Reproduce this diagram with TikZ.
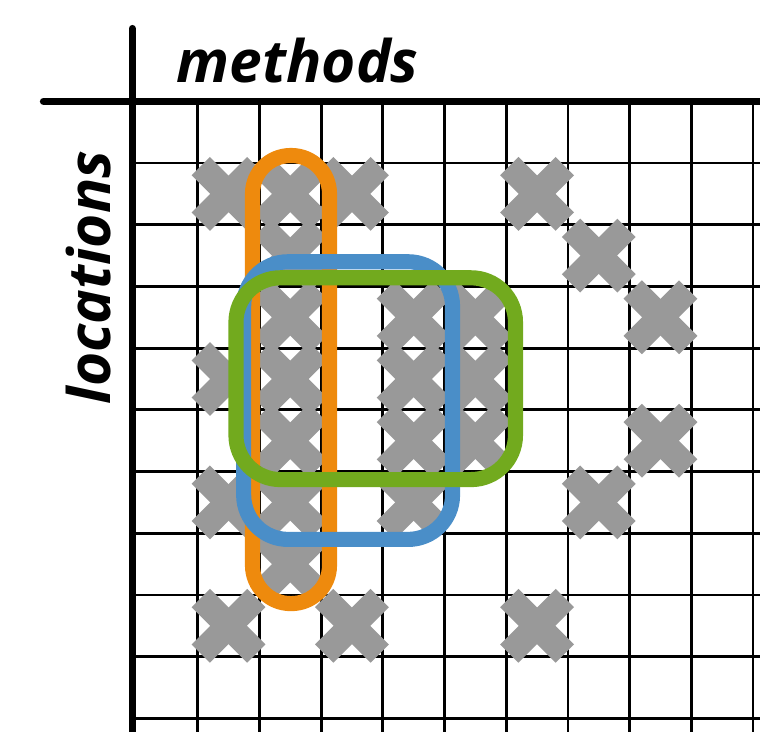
\documentclass[tikz,border=0pt]{standalone}
\usepackage{fontspec}
\setmainfont{Open Sans}
\usetikzlibrary{positioning}

\definecolor{hitgray}{RGB}{153,153,153}
\definecolor{setorange}{RGB}{238,138,13}
\definecolor{setblue}{RGB}{74,142,200}
\definecolor{setgreen}{RGB}{114,170,30}

\tikzset{
  gridline/.style={black,line width=1.3pt},
  axisline/.style={black,line width=3.3pt,line cap=round},
  hitmark/.style={hitgray,line width=0.42cm},
  setline/.style={line width=0.245cm},
  axislabel/.style={font=\fontsize{27}{27}\selectfont\bfseries\itshape,inner sep=0pt}
}

\begin{document}
\begin{tikzpicture}
  \useasboundingbox (-2.204,1.642) rectangle (10.113,-10.206);
  % ---- grid ----
  \foreach \x in {1,...,10} \draw[gridline] (\x,0) -- (\x,-10.3);
  \foreach \y in {1,...,10} \draw[gridline] (0,-\y) -- (10.2,-\y);
  % ---- hits: column/row of each cell ----
  \foreach \c/\r in {1/1,2/1,3/1,6/1, 2/2,7/2, 2/3,4/3,5/3,8/3, 1/4,2/4,4/4,5/4,
                     2/5,4/5,5/5,8/5, 1/6,2/6,4/6,7/6, 2/7, 1/8,3/8,6/8}{
    \draw[hitmark] (\c+0.05,-\r-0.05) -- (\c+0.95,-\r-0.95);
    \draw[hitmark] (\c+0.05,-\r-0.95) -- (\c+0.95,-\r-0.05);
  }
  % ---- selections ----
  \draw[setline,setorange,rounded corners=0.62cm] (1.888,-0.878) rectangle (3.136,-8.14);
  \draw[setline,setblue,rounded corners=0.72cm] (1.745,-2.60) rectangle (5.13,-7.10);
  \draw[setline,setgreen,rounded corners=0.72cm] (1.62,-2.86) rectangle (6.15,-6.13);
  % ---- axes ----
  \draw[axisline] (-0.06,1.18) -- (-0.06,-10.3);
  \draw[axisline] (-1.5,0) -- (10.2,0);
  \node[axislabel,anchor=base] (methods) at (2.62,0.313) {methods};
  \node[axislabel,rotate=90,anchor=base] (locations) at (-0.42,-2.856) {locations};
\end{tikzpicture}
\end{document}
